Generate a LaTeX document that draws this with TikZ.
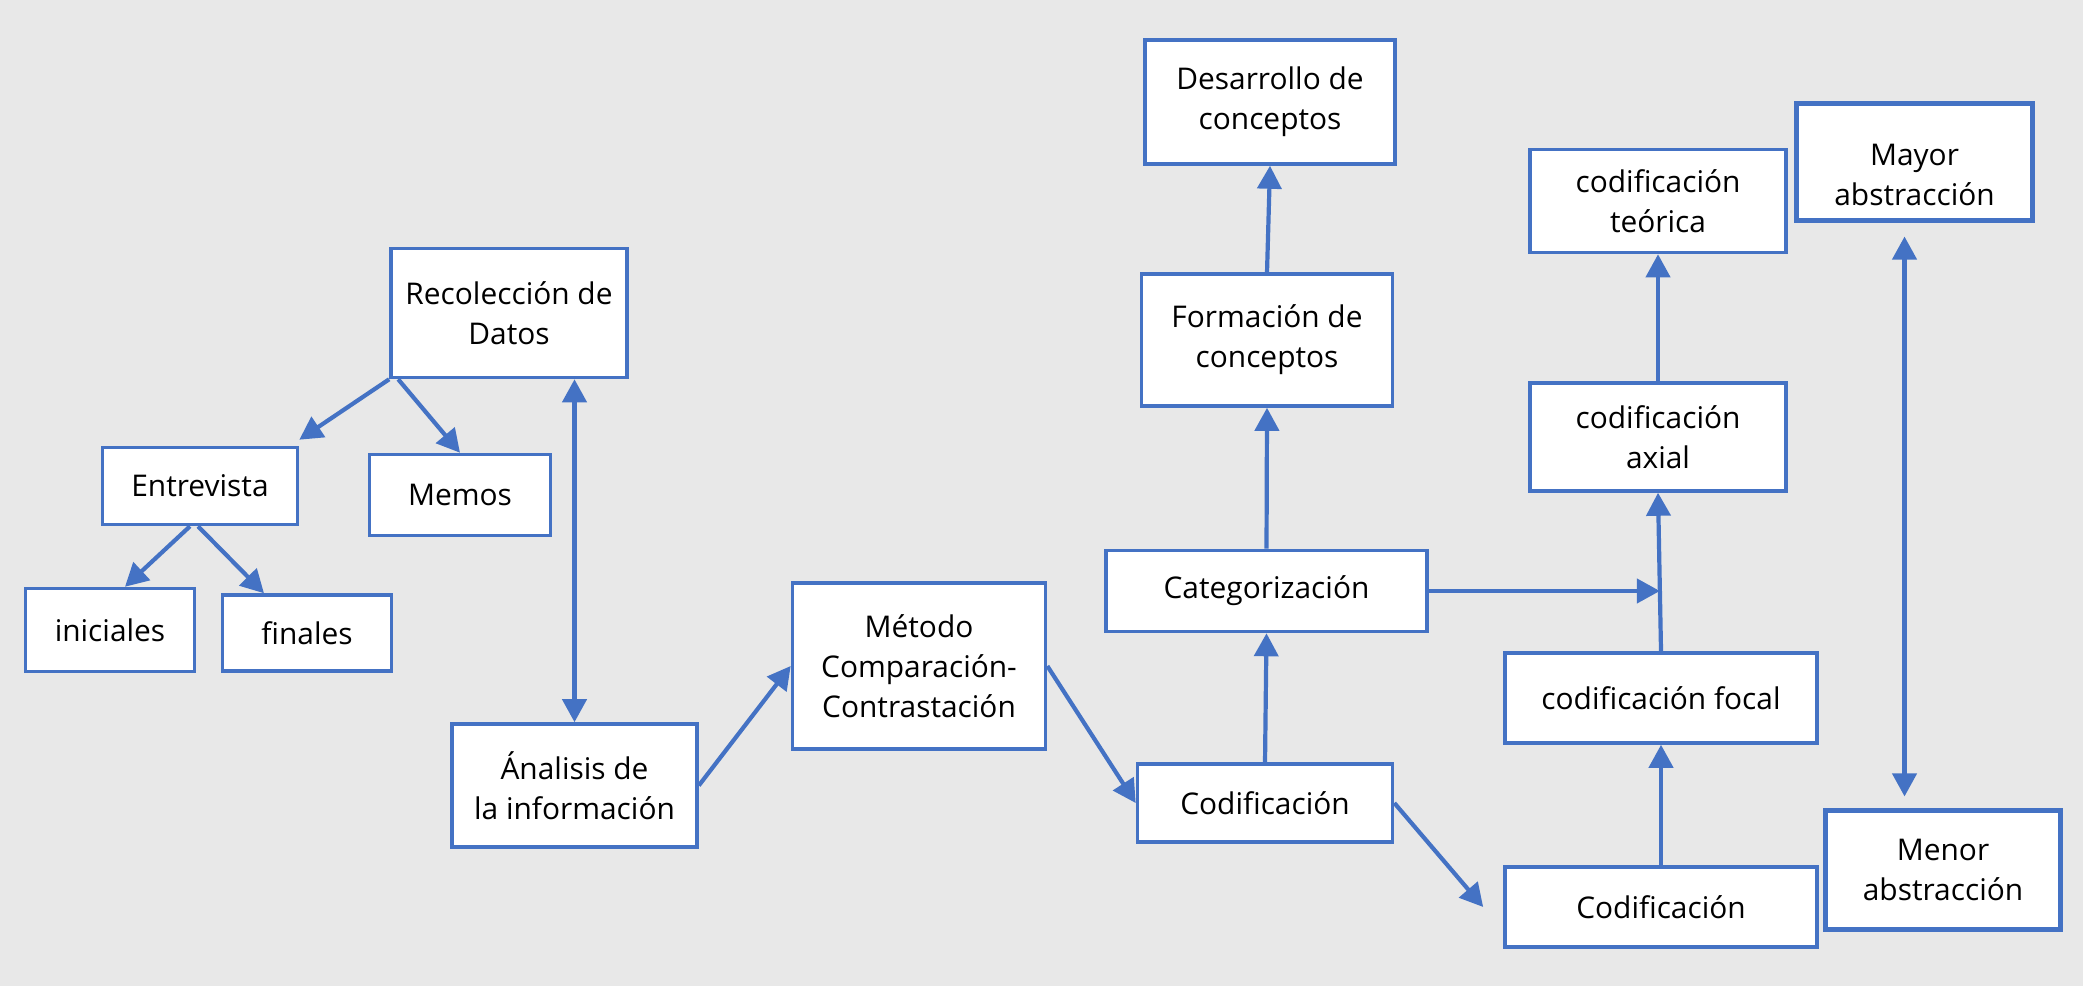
\documentclass[tikz,border=0pt]{standalone}
\usepackage{fontspec}
\setmainfont{Open Sans}
\usetikzlibrary{arrows.meta,calc}
\definecolor{bline}{HTML}{4472C4}
\definecolor{bg}{HTML}{E8E8E8}
\tikzset{
 txt/.style={align=center, font=\fontsize{8.5pt}{11.4pt}\selectfont},
 box/.style={txt, draw=bline, line width=0.035cm, fill=white, inner sep=0pt},
 boxb/.style={box, line width=0.05cm},
 arr/.style={draw=bline, line width=0.042cm, -{Triangle[length=0.23cm,width=0.24cm]}},
 arrb/.style={draw=bline, line width=0.042cm, {Triangle[length=0.23cm,width=0.24cm]}-{Triangle[length=0.23cm,width=0.24cm]}},
}
\begin{document}
\begin{tikzpicture}[x=0.01cm,y=-0.01cm]
\useasboundingbox[fill=bg] (0,0) rectangle (2083,986);
% nodes
\node[box, minimum width=2.36cm, minimum height=1.29cm] (rec) at (509,313) {Recolección de\\Datos};
\node[box, minimum width=1.95cm, minimum height=0.77cm] (ent) at (200,486) {Entrevista};
\node[box, minimum width=1.81cm, minimum height=0.81cm] (mem) at (460,495) {Memos};
\node[box, minimum width=1.69cm, minimum height=0.83cm] (ini) at (110,630) {iniciales};
\node[box, minimum width=1.69cm, minimum height=0.76cm] (fin) at (307,633) {finales};
\node[box, minimum width=2.45cm, minimum height=1.23cm] (ana) at (574.5,785.5) {Ánalisis de\\la información};
\node[box, minimum width=2.53cm, minimum height=1.66cm] (met) at (919,666) {Método\\Comparación-\\Contrastación};
\node[box, minimum width=2.55cm, minimum height=0.78cm] (cod1) at (1265,803) {Codificación};
\node[box, minimum width=3.21cm, minimum height=0.81cm] (cat) at (1266.5,591) {Categorización};
\node[box, minimum width=2.51cm, minimum height=1.32cm] (form) at (1267,340) {Formación de\\conceptos};
\node[box, minimum width=2.50cm, minimum height=1.24cm] (des) at (1270,102) {Desarrollo de\\conceptos};
\node[box, minimum width=3.12cm, minimum height=0.90cm] (foc) at (1661,698) {codificación focal};
\node[box, minimum width=3.12cm, minimum height=0.80cm] (cod2) at (1661,907) {Codificación};
\node[box, minimum width=2.56cm, minimum height=1.08cm] (axi) at (1658,437) {codificación\\axial};
\node[box, minimum width=2.56cm, minimum height=1.03cm] (teo) at (1658,201) {codificación\\teórica};
\node[boxb, minimum width=2.35cm, minimum height=1.16cm,
  label={[txt, yshift=-0.13cm]center:Mayor\\abstracción}] (may) at (1914.5,162) {};
\node[boxb, minimum width=2.34cm, minimum height=1.18cm] (men) at (1943,870) {Menor\\abstracción};
% connectors
\draw[arr] (rec.south west) -- ([shift={(0,-6)}]ent.north east);
\draw[arr] ([xshift=0.09cm]rec.south west) -- (mem.north);
\draw[arr] ([xshift=-0.1cm]ent.south) -- ([xshift=0.15cm]ini.north);
\draw[arr] ([xshift=-0.02cm]ent.south) -- ([xshift=-0.43cm]fin.north);
\draw[arrb] (ana.north |- rec.south) -- (ana.north);
\draw[arr] (ana.east) -- (met.west);
\draw[arr] (met.east) -- (cod1.west);
\draw[arr] (cod1.north) -- (cat.south);
\draw[arr] (cat.north) -- (form.south);
\draw[arr] (form.north) -- (des.south);
\draw[arr] (cod1.east) -- ([xshift=-0.2cm]cod2.west);
\draw[arr] (cod2.north) -- (foc.south);
\draw[arr] (foc.north) -- (axi.south);
\draw[arr] (axi.north) -- (teo.south);
\coordinate (j) at ($(foc.north)!0.377!(axi.south)$);
\draw[arr] (cat.east) -- (cat.east -| j);
\coordinate (mt) at ([shift={(-10,14)}]may.south);
\coordinate (mb) at ([yshift=0.12cm]mt |- men.north);
\draw[arrb] (mt) -- (mb);
\end{tikzpicture}
\end{document}
